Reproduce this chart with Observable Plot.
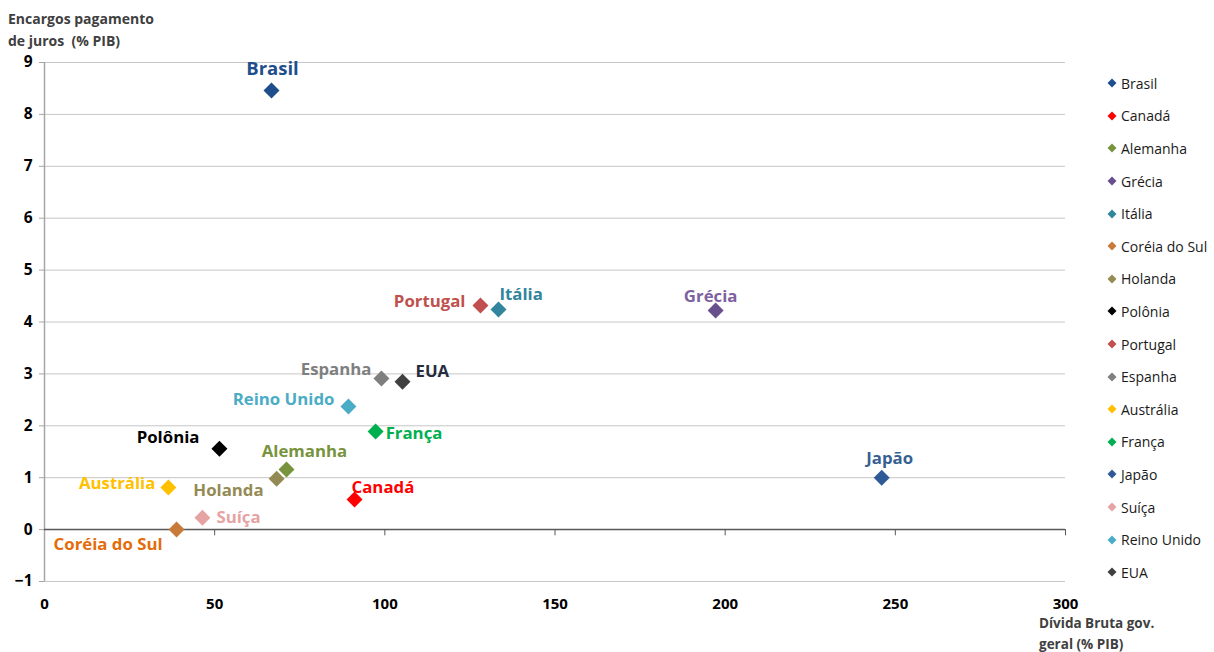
<!DOCTYPE html>
<html>
<head>
<meta charset="utf-8">
<script src="https://cdn.jsdelivr.net/npm/d3@7"></script>
<script src="https://cdn.jsdelivr.net/npm/@observablehq/plot@0.6"></script>
<style>
  html, body { margin: 0; padding: 0; background: #fff; }
  #wrap { position: relative; width: 1214px; height: 652px; font-family: "Open Sans", Lato, sans-serif; }
  #wrap svg { position: absolute; left: 0; top: 0; }
  .ytitle { position: absolute; left: 8px; top: 8px; font-size: 14px; font-weight: bold; color: #404040; line-height: 22px; }
  .xtitle { position: absolute; left: 1039px; top: 613px; font-size: 13.5px; font-weight: bold; color: #404040; line-height: 21px; }
  #legend { position: absolute; left: 1106px; top: 67px; }
  .item { height: 32.6px; display: flex; align-items: center; font-size: 14px; color: #1a1a1a; white-space: nowrap; }
  .item svg { position: static !important; margin-right: 3px; }
</style>
</head>
<body>
<div id="wrap">
  <div class="ytitle">Encargos pagamento<br>de juros&nbsp; (% PIB)</div>
  <div class="xtitle">Dívida Bruta gov.<br>geral (% PIB)</div>
  <div id="legend"></div>
</div>
<script>
// Gross government debt vs. interest payments, both as % of GDP
const countries = ["Brasil", "Canadá", "Alemanha", "Grécia", "Itália", "Coréia do Sul", "Holanda", "Polônia",
                   "Portugal", "Espanha", "Austrália", "França", "Japão", "Suíça", "Reino Unido", "EUA"];
const debt     = [66.7, 91.1, 71.1, 197.2, 133.4, 38.8, 68.2, 51.4, 128.1, 99.0, 36.4, 97.3, 246.0, 46.4, 89.3, 105.2];
const interest = [8.46, 0.58, 1.16, 4.22, 4.24, 0.0, 0.98, 1.56, 4.32, 2.91, 0.81, 1.89, 1.0, 0.23, 2.37, 2.85];
const xTicks = [0, 50, 100, 150, 200, 250, 300];
const yTicks = [-1, 0, 1, 2, 3, 4, 5, 6, 7, 8, 9];

// Marker and label colours per country
const markerColor = {
  "Brasil": "#1f4e8c", "Canadá": "#ff0000", "Alemanha": "#77933c", "Grécia": "#6a4f8e",
  "Itália": "#31859c", "Coréia do Sul": "#c87a38", "Holanda": "#948a54", "Polônia": "#000000",
  "Portugal": "#c0504d", "Espanha": "#7f7f7f", "Austrália": "#ffc000", "França": "#00b050",
  "Japão": "#2f5a96", "Suíça": "#e6a3a3", "Reino Unido": "#4bacc6", "EUA": "#404040"
};
const labelColor = {
  ...markerColor,
  "Brasil": "#1f4e8c", "Grécia": "#7d60a0", "Itália": "#31859c", "Coréia do Sul": "#e46c0a",
  "Japão": "#376092", "EUA": "#262c3e"
};

// Where each label sits relative to its marker
const placement = {
  "Brasil":        {dx: 1,   dy: -21, anchor: "middle", size: 18.5},
  "Canadá":        {dx: -3,  dy: -12, anchor: "start"},
  "Alemanha":      {dx: 18,  dy: -18, anchor: "middle"},
  "Grécia":        {dx: -5,  dy: -14, anchor: "middle"},
  "Itália":        {dx: 1,   dy: -15, anchor: "start"},
  "Coréia do Sul": {dx: -14, dy: 15,  anchor: "end"},
  "Holanda":       {dx: -13, dy: 12,  anchor: "end"},
  "Polônia":       {dx: -20, dy: -11, anchor: "end"},
  "Portugal":      {dx: -15, dy: -4,  anchor: "end"},
  "Espanha":       {dx: -10, dy: -9,  anchor: "end"},
  "Austrália":     {dx: -13, dy: -4,  anchor: "end"},
  "França":        {dx: 10,  dy: 2,   anchor: "start"},
  "Japão":         {dx: 8,   dy: -19, anchor: "middle"},
  "Suíça":         {dx: 14,  dy: 0,   anchor: "start"},
  "Reino Unido":   {dx: -14, dy: -7,  anchor: "end"},
  "EUA":           {dx: 13,  dy: -10, anchor: "start"}
};

const data = countries.map((country, i) => ({country, debt: debt[i], interest: interest[i]}));

const labels = countries.map(c => {
  const p = placement[c];
  return Plot.text(data.filter(d => d.country === c), {
    x: "debt", y: "interest", text: "country",
    fill: d => labelColor[d.country],
    dx: p.dx, dy: p.dy, textAnchor: p.anchor,
    fontSize: p.size || 16.8, fontWeight: "bold", fontFamily: "'Open Sans', sans-serif"
  });
});

const chart = Plot.plot({
  width: 1214,
  height: 652,
  marginLeft: 44,
  marginRight: 149,
  marginTop: 62,
  marginBottom: 71,
  style: {fontFamily: "'Open Sans', sans-serif", background: "transparent"},
  color: {type: "identity"},
  x: {domain: [0, 300], label: null},
  y: {domain: [-1, 9], label: null},
  marks: [
    Plot.gridY(yTicks, {stroke: "#c6c6c6", strokeOpacity: 1}),
    Plot.ruleX([0], {stroke: "#a6a6a6", strokeWidth: 1.5}),
    Plot.ruleY([0], {stroke: "#595959", strokeWidth: 1.5}),
    Plot.ruleX(xTicks.slice(1), {x: d => d, y1: 0, y2: -0.12, stroke: "#595959"}),
    Plot.axisY({ticks: yTicks, tickSize: 5, tickPadding: 7, stroke: "#a6a6a6", fill: "#000",
                fontSize: 15.5, fontWeight: "bold", label: null}),
    Plot.axisX({ticks: xTicks, tickSize: 0, tickPadding: 17, fill: "#000",
                fontSize: 15, fontWeight: "bold", label: null}),
    Plot.dot(data, {x: "debt", y: "interest", symbol: "diamond2", r: 7.2,
                    fill: d => markerColor[d.country], stroke: null}),
    ...labels
  ]
});
document.getElementById("wrap").prepend(chart);

// Legend: one row per country, in series order
const legend = d3.select("#legend");
countries.forEach(c => {
  const row = legend.append("div").attr("class", "item");
  const s = row.append("svg").attr("width", 12).attr("height", 12);
  s.append("path").attr("d", "M6,1.5L10.5,6L6,10.5L1.5,6Z").attr("fill", markerColor[c]);
  row.append("span").text(c);
});
</script>
</body>
</html>
